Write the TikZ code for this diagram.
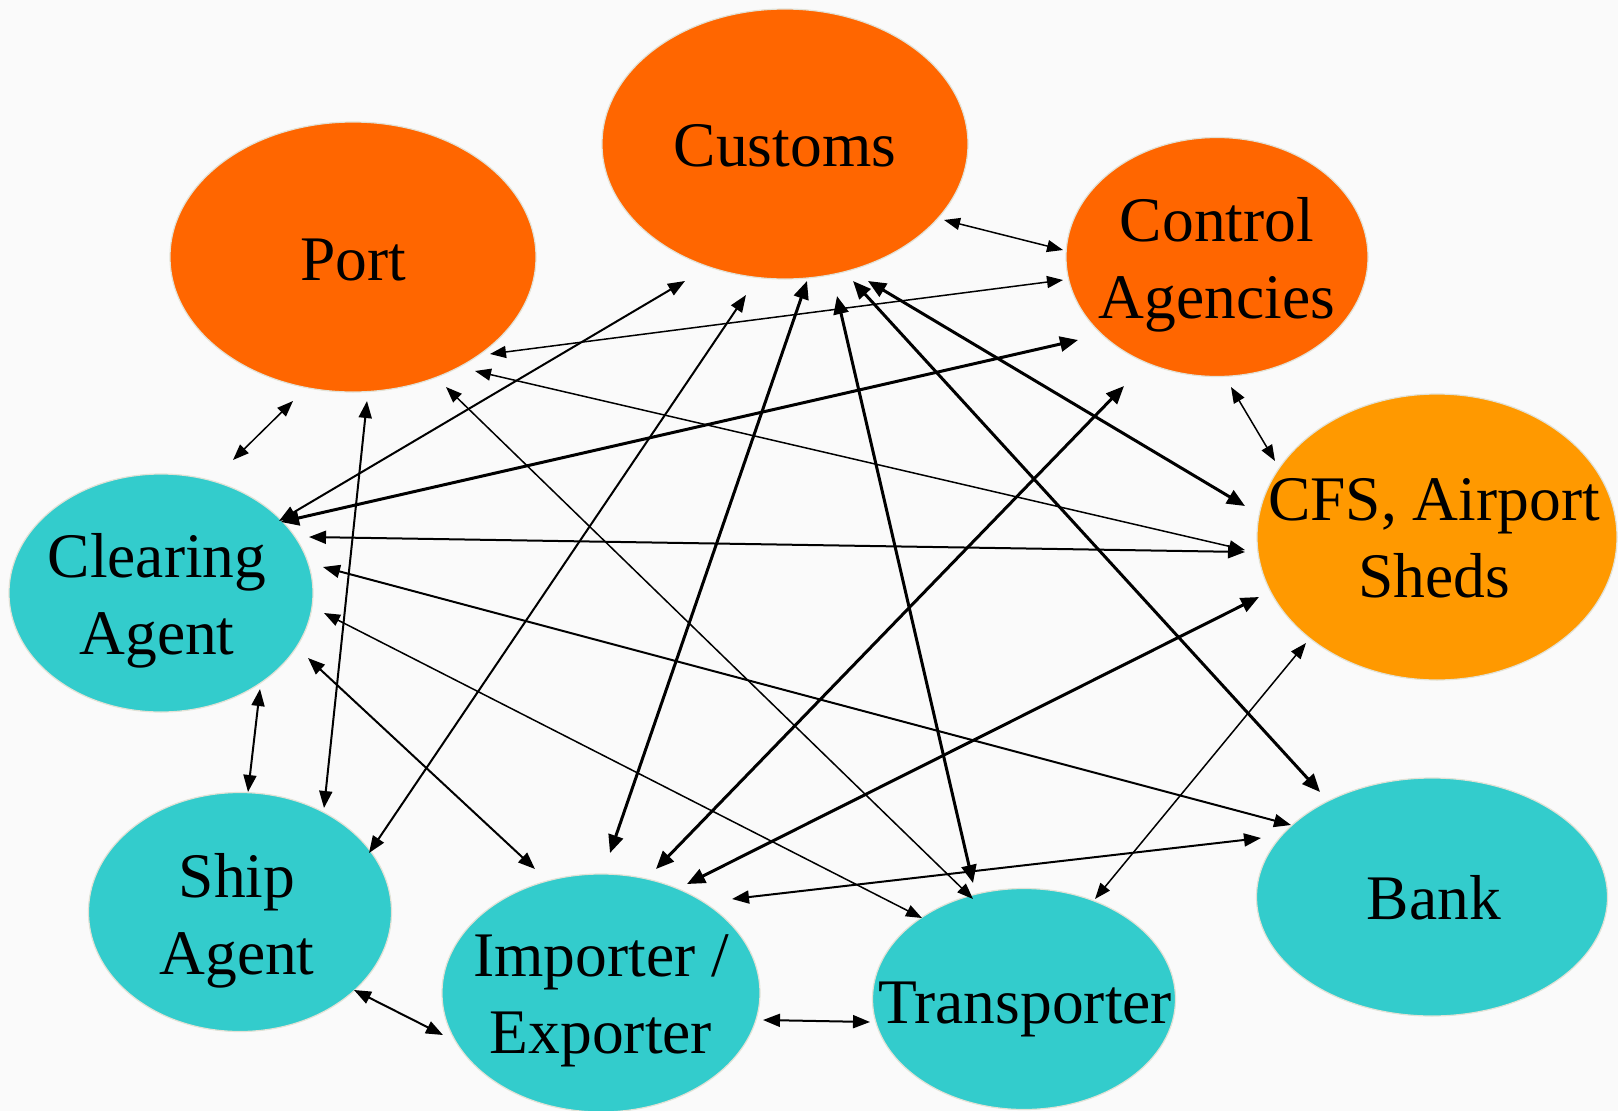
\documentclass[tikz,border=0pt]{standalone}
\usepackage{fontspec}
\setmainfont{Liberation Serif}
\usetikzlibrary{shapes.geometric,arrows.meta}
\definecolor{orng}{HTML}{FF6600}
\definecolor{amber}{HTML}{FF9900}
\definecolor{teal2}{HTML}{33CCCC}
\definecolor{rim}{HTML}{E2E2D6}
\definecolor{bg}{HTML}{FAFAFA}
\begin{document}
\begin{tikzpicture}[x=1pt,y=-1pt,
  ell/.style={ellipse, draw=rim, line width=1.2pt, inner sep=0pt, outer sep=0pt},
  lbl/.style={align=center, inner sep=0pt, font=\fontsize{63.5}{77}\selectfont},
  lk1/.style={line width=1.5pt, >={Triangle[length=16pt,width=12pt]}, <->},
  lk2/.style={line width=2pt, >={Triangle[length=17pt,width=13pt]}, <->},
  lk3/.style={line width=3pt, >={Triangle[length=18pt,width=15pt]}, <->}]
\useasboundingbox (0,0) rectangle (1618,1111);
\fill[bg] (0,0) rectangle (1618,1111);
% ellipses
\node[ell, fill=orng, minimum width=366pt, minimum height=270pt] (customs) at (785,144) {};
\node[ell, fill=orng, minimum width=366pt, minimum height=270pt] (port) at (353,257) {};
\node[ell, fill=orng, minimum width=302pt, minimum height=239pt] (control) at (1217,257) {};
\node[ell, fill=amber, minimum width=360pt, minimum height=286pt] (cfs) at (1437,537) {};
\node[ell, fill=teal2, minimum width=304pt, minimum height=238pt] (clearing) at (161,593) {};
\node[ell, fill=teal2, minimum width=303pt, minimum height=239pt] (ship) at (240,912) {};
\node[ell, fill=teal2, minimum width=318pt, minimum height=238pt] (importer) at (601,993) {};
\node[ell, fill=teal2, minimum width=303pt, minimum height=221pt] (transporter) at (1024,999) {};
\node[ell, fill=teal2, minimum width=351pt, minimum height=238pt] (bank) at (1432,897) {};
% labels
\node[lbl] (customs-t) at (785,146) {Customs};
\node[lbl] (port-t) at (353,260) {Port};
\node[lbl] (control-t) at (1217,265) {Control\\Agencies};
\node[lbl] (cfs-t) at (1434,538) {CFS, Airport\\Sheds};
\node[lbl] (clearing-t) at (157,601) {Clearing\\Agent};
\node[lbl] (ship-t) at (237,921) {Ship\\Agent};
\node[lbl] (importer-t) at (601,1001) {Importer /\\Exporter};
\node[lbl] (transporter-t) at (1025,1009) {Transporter};
\node[lbl] (bank-t) at (1434,898) {Bank};
% connectors
\draw[lk1] ([shift={(159,76)}]customs.center) -- ([shift={(-154,-7)}]control.center);
\draw[lk1] ([shift={(137,97)}]port.center) -- ([shift={(-154,23)}]control.center);
\draw[lk2] ([shift={(118,-72)}]clearing.center) -- ([shift={(-100,137)}]customs.center);
\draw[lk3] ([shift={(120,-71)}]clearing.center) -- ([shift={(-139,83)}]control.center);
\draw[lk1] ([shift={(-60,144)}]port.center) -- ([shift={(72,-133)}]clearing.center);
\draw[lk2] ([shift={(14,144)}]port.center) -- ([shift={(84,-104)}]ship.center);
\draw[lk2] ([shift={(148,-56)}]clearing.center) -- ([shift={(-192,15)}]cfs.center);
\draw[lk1] ([shift={(122,114)}]port.center) -- ([shift={(-192,13)}]cfs.center);
\draw[lk1] ([shift={(93,130)}]port.center) -- ([shift={(-51,-100)}]transporter.center);
\draw[lk2] ([shift={(-39,151)}]customs.center) -- ([shift={(129,-59)}]ship.center);
\draw[lk3] ([shift={(22,137)}]customs.center) -- ([shift={(9,-140)}]importer.center);
\draw[lk3] ([shift={(52,152)}]customs.center) -- ([shift={(-51,-116)}]transporter.center);
\draw[lk3] ([shift={(83,137)}]customs.center) -- ([shift={(-192,-31)}]cfs.center);
\draw[lk3] ([shift={(68,137)}]customs.center) -- ([shift={(-112,-105)}]bank.center);
\draw[lk1] ([shift={(14,130)}]control.center) -- ([shift={(-162,-76)}]cfs.center);
\draw[lk3] ([shift={(-93,129)}]control.center) -- ([shift={(55,-124)}]importer.center);
\draw[lk3] ([shift={(-178,60)}]cfs.center) -- ([shift={(86,-109)}]importer.center);
\draw[lk1] ([shift={(-131,106)}]cfs.center) -- ([shift={(71,-100)}]transporter.center);
\draw[lk2] ([shift={(162,-26)}]clearing.center) -- ([shift={(-141,-72)}]bank.center);
\draw[lk1] ([shift={(163,20)}]clearing.center) -- ([shift={(-102,-81)}]transporter.center);
\draw[lk2] ([shift={(147,65)}]clearing.center) -- ([shift={(-66,-124)}]importer.center);
\draw[lk2] ([shift={(99,96)}]clearing.center) -- ([shift={(8,-120)}]ship.center);
\draw[lk2] ([shift={(114,78)}]ship.center) -- ([shift={(-158,42)}]importer.center);
\draw[lk2] ([shift={(162,27)}]importer.center) -- ([shift={(-154,23)}]transporter.center);
\draw[lk2] ([shift={(131,-94)}]importer.center) -- ([shift={(-171,-59)}]bank.center);
\end{tikzpicture}
\end{document}
